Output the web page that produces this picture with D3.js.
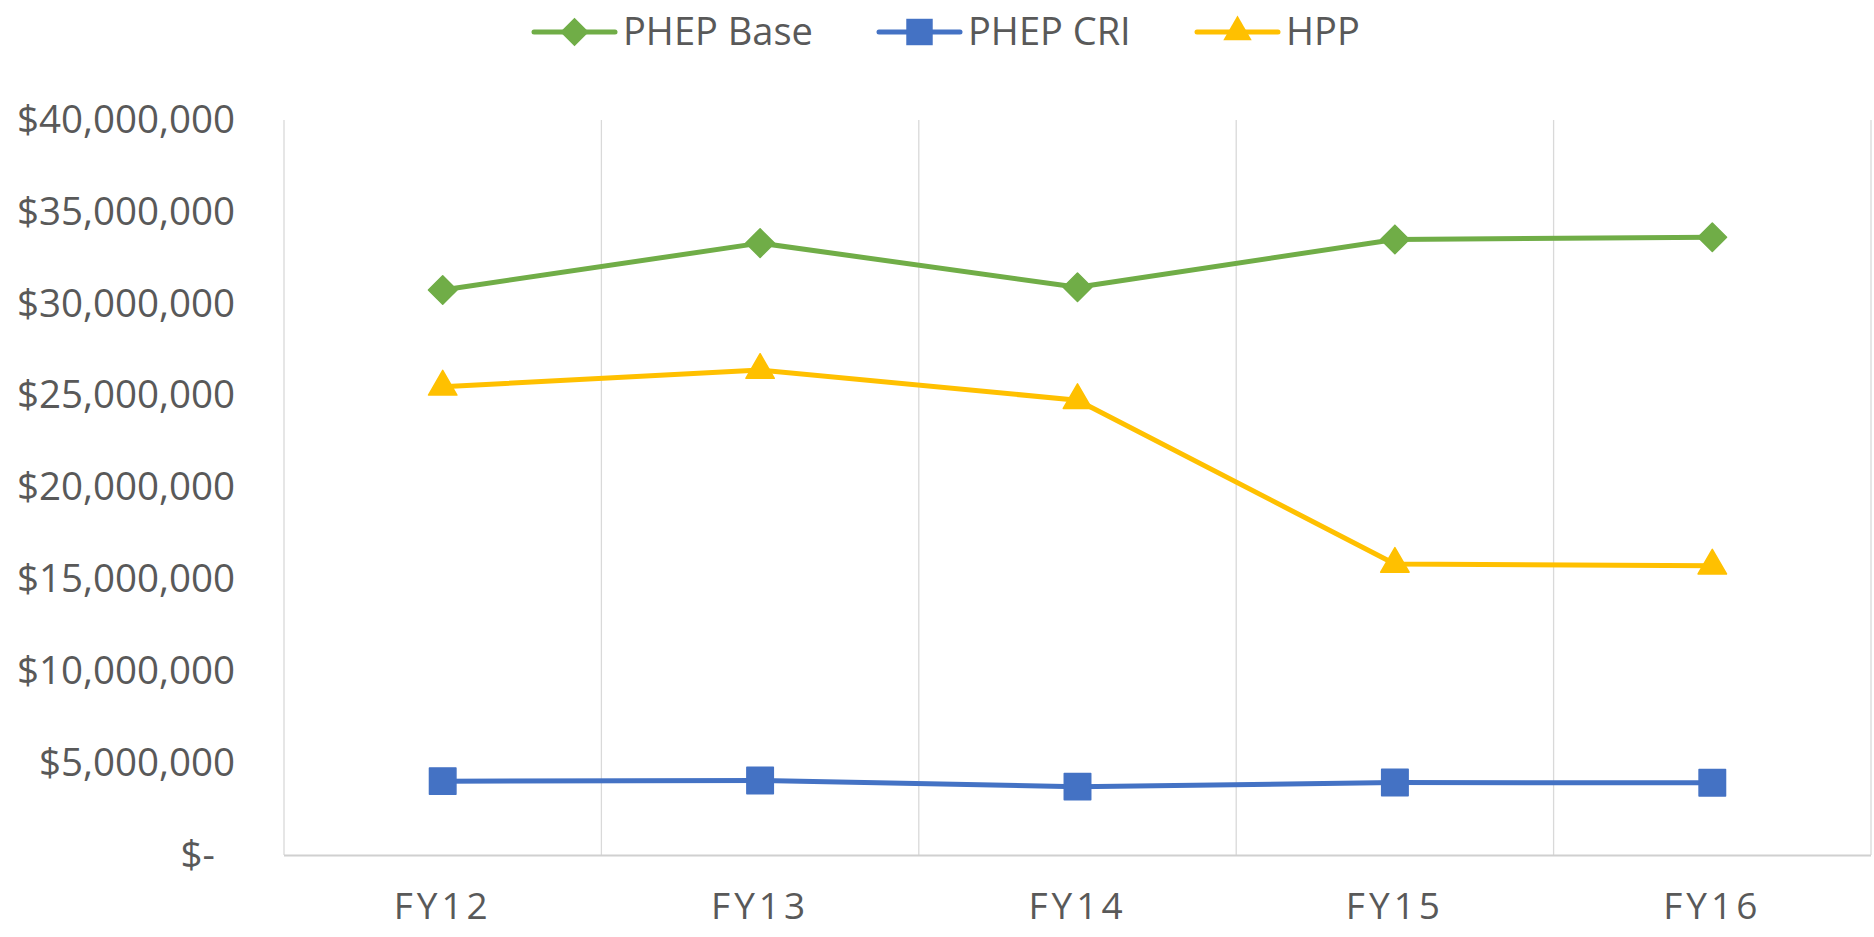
<!DOCTYPE html>
<meta charset="utf-8">
<script src="https://d3js.org/d3.v7.min.js"></script>
<style>
  body { margin: 0; background: #fff; }
  text { font-family: "Open Sans", "Liberation Sans", sans-serif; fill: #595959; }
</style>
<div id="chart"></div>
<script>

// data
var years = ["FY12", "FY13", "FY14", "FY15", "FY16"];
var phepBase = [30750000, 33300000, 30900000, 33500000, 33620000];
var phepCri  = [4020000, 4050000, 3720000, 3940000, 3930000];
var hpp      = [25480000, 26390000, 24750000, 15840000, 15740000];
var yTicks = [0, 5000000, 10000000, 15000000, 20000000, 25000000, 30000000, 35000000, 40000000];
var seriesNames = ["PHEP Base", "PHEP CRI", "HPP"];

var W = 1874, H = 937;
var margin = {top: 120, right: 3, bottom: 82, left: 284};

var svg = d3.select("#chart").append("svg")
    .attr("width", W)
    .attr("height", H);

var x = d3.scaleBand()
    .domain(years)
    .range([margin.left, W - margin.right]);

var y = d3.scaleLinear()
    .domain([0, 40000000])
    .range([H - margin.bottom, margin.top]);

// vertical gridlines at category boundaries
var edges = years.map(function(d) { return x(d); }).concat([x.range()[1]]);
svg.append("g").selectAll("line")
  .data(edges)
  .enter().append("line")
    .attr("x1", function(d) { return d; })
    .attr("x2", function(d) { return d; })
    .attr("y1", y(40000000))
    .attr("y2", y(0))
    .attr("stroke", "#d9d9d9")
    .attr("stroke-width", 1.3);

// bottom axis line
svg.append("line")
    .attr("x1", x.range()[0])
    .attr("x2", x.range()[1])
    .attr("y1", y(0) + 0.5)
    .attr("y2", y(0) + 0.5)
    .attr("stroke", "#d0d0d0")
    .attr("stroke-width", 2);

// y labels
var money = d3.format(",");
var yAxis = svg.append("g")
    .attr("transform", "translate(" + margin.left + ",0)")
    .call(d3.axisLeft(y).tickValues(yTicks).tickSize(0).tickPadding(49)
      .tickFormat(function(d) { return d === 0 ? "$-\u00a0\u00a0" : "$" + money(d); }));
yAxis.select(".domain").remove();
yAxis.selectAll("text")
    .style("font-size", "38.5px")
    .style("font-family", "'Open Sans', sans-serif")
    .attr("fill", "#595959");

// x labels
var xAxis = svg.append("g")
    .attr("transform", "translate(0," + y(0) + ")")
    .call(d3.axisBottom(x).tickSize(0).tickPadding(38));
xAxis.select(".domain").remove();
xAxis.selectAll("text")
    .style("font-size", "37px")
    .style("letter-spacing", "4px")
    .style("font-family", "'Open Sans', sans-serif")
    .attr("fill", "#595959");

var cx = function(d, i) { return x(years[i]) + x.bandwidth() / 2; };

var series = [
  {name: seriesNames[0], values: phepBase, color: "#70ad47", shape: d3.symbolDiamond2, size: 520},
  {name: seriesNames[1], values: phepCri, color: "#4472c4", shape: d3.symbolSquare, size: 700},
  {name: seriesNames[2], values: hpp, color: "#ffc000", shape: d3.symbolTriangle, size: 350}
];

var line = d3.line()
    .x(cx)
    .y(function(d) { return y(d); });

series.forEach(function(s) {
  svg.append("path")
      .datum(s.values)
      .attr("d", line)
      .attr("fill", "none")
      .attr("stroke", s.color)
      .attr("stroke-width", 5)
      .attr("stroke-linejoin", "round");

  svg.append("g").selectAll("path")
    .data(s.values)
    .enter().append("path")
      .attr("d", d3.symbol().type(s.shape).size(s.size))
      .attr("transform", function(d, i) {
        return "translate(" + cx(d, i) + "," + y(d) + ")";
      })
      .attr("fill", s.color)
      .attr("stroke", s.color)
      .attr("stroke-width", 1.5)
      .attr("stroke-linejoin", "round");
});

// legend
var legendX = [534, 879, 1197];
var legend = svg.append("g");
series.forEach(function(s, i) {
  var g = legend.append("g").attr("transform", "translate(" + legendX[i] + ",32)");
  g.append("line")
      .attr("x1", 0).attr("x2", 81)
      .attr("stroke", s.color)
      .attr("stroke-width", 5)
      .attr("stroke-linecap", "round");
  g.append("path")
      .attr("d", d3.symbol().type(s.shape).size(s.size))
      .attr("transform", "translate(40.5,0)")
      .attr("fill", s.color);
  g.append("text")
      .attr("x", 89)
      .attr("dy", "0.35em")
      .style("font-size", "38px")
      .text(s.name);
});

</script>
